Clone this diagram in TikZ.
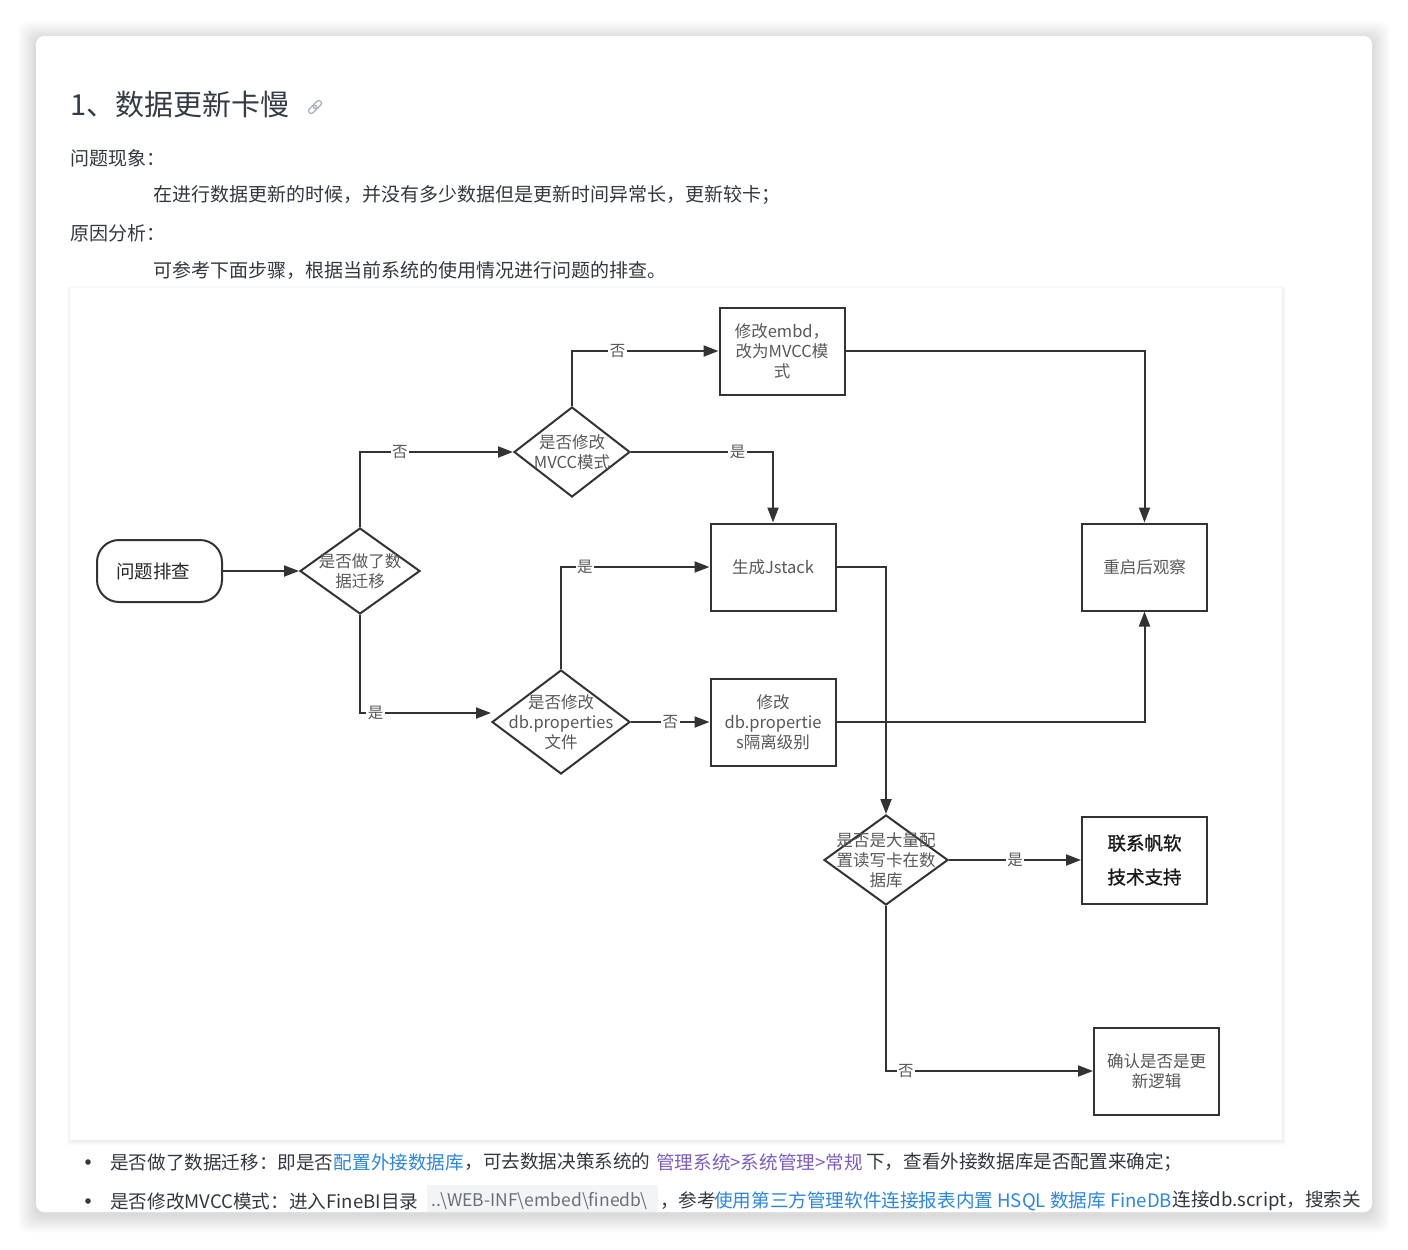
\documentclass[tikz,border=0pt]{standalone}
\usepackage{fontspec}
\setmainfont{Noto Sans CJK SC}
\newfontfamily\heavycjk[FakeBold=1.2]{Noto Sans CJK SC}
\usetikzlibrary{arrows.meta,shapes.geometric}
\definecolor{titlec}{HTML}{353B45}
\definecolor{bodyc}{HTML}{333840}
\definecolor{flowtext}{HTML}{585858}
\definecolor{linec}{HTML}{333333}
\definecolor{linkblue}{HTML}{2B86E6}
\definecolor{linkpurple}{HTML}{7E5CC6}
\definecolor{codebg}{HTML}{F3F4F6}
\definecolor{codec}{HTML}{6A707A}
\definecolor{iconc}{HTML}{A8B0BC}
\begin{document}
\begin{tikzpicture}[x=1pt,y=-1pt,
  flowfont/.style={font=\fontsize{16.5}{20}\selectfont},
  box/.style={draw=linec, line width=2pt, minimum width=125pt, minimum height=87pt, inner sep=0pt, flowfont, text=flowtext, align=center},
  dia/.style={draw=linec, line width=2pt, diamond, inner sep=0pt},
  dtext/.style={flowfont, text=flowtext, align=center, inner sep=0pt},
  conn/.style={draw=linec, line width=2pt, -{Triangle[length=15pt,width=11pt]}},
  elbl/.style={fill=white, inner sep=1.5pt, font=\fontsize{15.5}{15.5}\selectfont, text=flowtext},
  para/.style={anchor=west, inner sep=0pt, font=\fontsize{19}{22}\selectfont, text=bodyc},
  bul/.style={para, font=\fontsize{18.6}{22}\selectfont},
]
\useasboundingbox (0,0) rectangle (1408,1250);
\fill[white] (0,0) rectangle (1408,1250);
% card shadow
\foreach \i in {1,...,18}
  \fill[black, opacity=0.007, rounded corners=10pt] ({36-\i},{36-\i+3}) rectangle ({1372+\i},{1212+\i+3});
\fill[white, rounded corners=8pt] (36,36) rectangle (1372,1212);
% flowchart image shadow
\foreach \i in {1,...,4}
  \fill[black, opacity=0.014] ({70-\i+1},{288-\i+2}) rectangle ({1282+\i},{1140+\i+1});
\fill[white] (70,288) rectangle (1282,1140);

\begin{scope}
\clip[rounded corners=8pt] (36,36) rectangle (1372,1212);
% header texts
\node[anchor=west, inner sep=0pt, font=\fontsize{29}{30}\selectfont, text=titlec] (title) at (70,104) {1、数据更新卡慢};
\begin{scope}[shift={(315,107)}, rotate=45, iconc, line width=1.3pt]
  \draw[rounded corners=2.5pt] (-8,-2.6) rectangle (1.5,2.6);
  \draw[rounded corners=2.5pt] (-1.5,-2.6) rectangle (8,2.6);
\end{scope}
\node[para] (h1) at (70,158) {问题现象：};
\node[para] (p1) at (153,195) {在进行数据更新的时候，并没有多少数据但是更新时间异常长，更新较卡；};
\node[para] (h2) at (70,233) {原因分析：};
\node[para] (p2) at (153,270) {可参考下面步骤，根据当前系统的使用情况进行问题的排查。};

% bullets
\fill[bodyc] (88,1162) circle[radius=2.8pt];
\node[bul] (ua) at (110,1162) {是否做了数据迁移：即是否};
\node[bul, text=linkblue] (ub) at (ua.east) {配置外接数据库};
\node[bul] (uc) at (ub.east) {，可去数据决策系统的};
\node[bul, text=linkpurple] (ud) at (656,1162) {管理系统>系统管理>常规};
\node[bul] (ue) at (866,1162) {下，查看外接数据库是否配置来确定；};

\fill[bodyc] (88,1201) circle[radius=2.8pt];
\node[bul] (va) at (110,1201) {是否修改MVCC模式：进入FineBI目录};
\node[anchor=west, fill=codebg, minimum height=32pt, text width=223pt, inner xsep=4pt, inner ysep=0pt, align=left, font=\fontsize{17.5}{18}\selectfont, text=codec] (vb) at (427,1201) {..\textbackslash WEB-INF\textbackslash embed\textbackslash finedb\textbackslash};
\node[bul] (vc) at (660,1201) {，参考};
\node[bul, text=linkblue] (vd) at (714,1201) {使用第三方管理软件连接报表内置 HSQL 数据库 FineDB};
\node[bul] (ve) at (vd.east) {连接db.script，搜索关};
\end{scope}

% flowchart nodes
\node[draw=linec, line width=2pt, rounded corners=22pt, minimum width=125pt, minimum height=62pt, inner xsep=19pt, text width=87pt, align=left, font=\fontsize{18.5}{20}\selectfont, text=black!85] (st) at (159.5,571) {问题排查};
\node[dia, minimum width=120pt, minimum height=86pt] (d1) at (360,571) {};
\node[dtext] (d1t) at (d1) {是否做了数\\据迁移};
\node[dia, minimum width=116pt, minimum height=90pt] (d2) at (572,452) {};
\node[dtext] (d2t) at (d2) {是否修改\\MVCC模式};
\node[box] (b1) at (782,351) {修改embd，\\改为MVCC模\\式};
\node[box] (j) at (773,567) {生成Jstack};
\node[box] (r) at (1144.5,567) {重启后观察};
\node[dia, minimum width=138pt, minimum height=104pt] (d3) at (561,722) {};
\node[dtext] (d3t) at (d3) {是否修改\\db.properties\\文件};
\node[box] (b2) at (773,722) {修改\\db.propertie\\s隔离级别};
\node[dia, minimum width=124pt, minimum height=90pt] (d4) at (886,860) {};
\node[dtext] (d4t) at (d4) {是否是大量配\\置读写卡在数\\据库};
\node[box, font=\heavycjk\fontsize{18.5}{34}\selectfont, text=black!90] (t) at (1144.5,860) {联系帆软\\技术支持};
\node[box] (c) at (1156.5,1071) {确认是否是更\\新逻辑};

% connectors
\draw[conn] (st.east) -- (d1.west);
\draw[conn] (d1.north) |- node[elbl, pos=0.63] (l1) {否} (d2.west);
\draw[conn] (d2.north) |- node[elbl, pos=0.656] (l2) {否} (b1.west);
\draw[conn] (b1.east) -| (r.north);
\draw[conn] (d2.east) -| node[elbl, pos=0.375] (l3) {是} (j.north);
\draw[conn] (d1.south) |- node[elbl, pos=0.56] (l4) {是} ([yshift=9pt]d3.west);
\draw[conn] (d3.north) |- node[elbl, pos=0.58] (l5) {是} (j.west);
\draw[conn] (d3.east) -- node[elbl] (l6) {否} (b2.west);
\draw[conn] (j.east) -| (d4.north);
\draw[conn] (b2.east) -| (r.south);
\draw[conn] (d4.east) -- node[elbl] (l7) {是} (t.west);
\draw[conn] (d4.south) |- node[elbl, pos=0.548] (l8) {否} (c.west);
\end{tikzpicture}
\end{document}
